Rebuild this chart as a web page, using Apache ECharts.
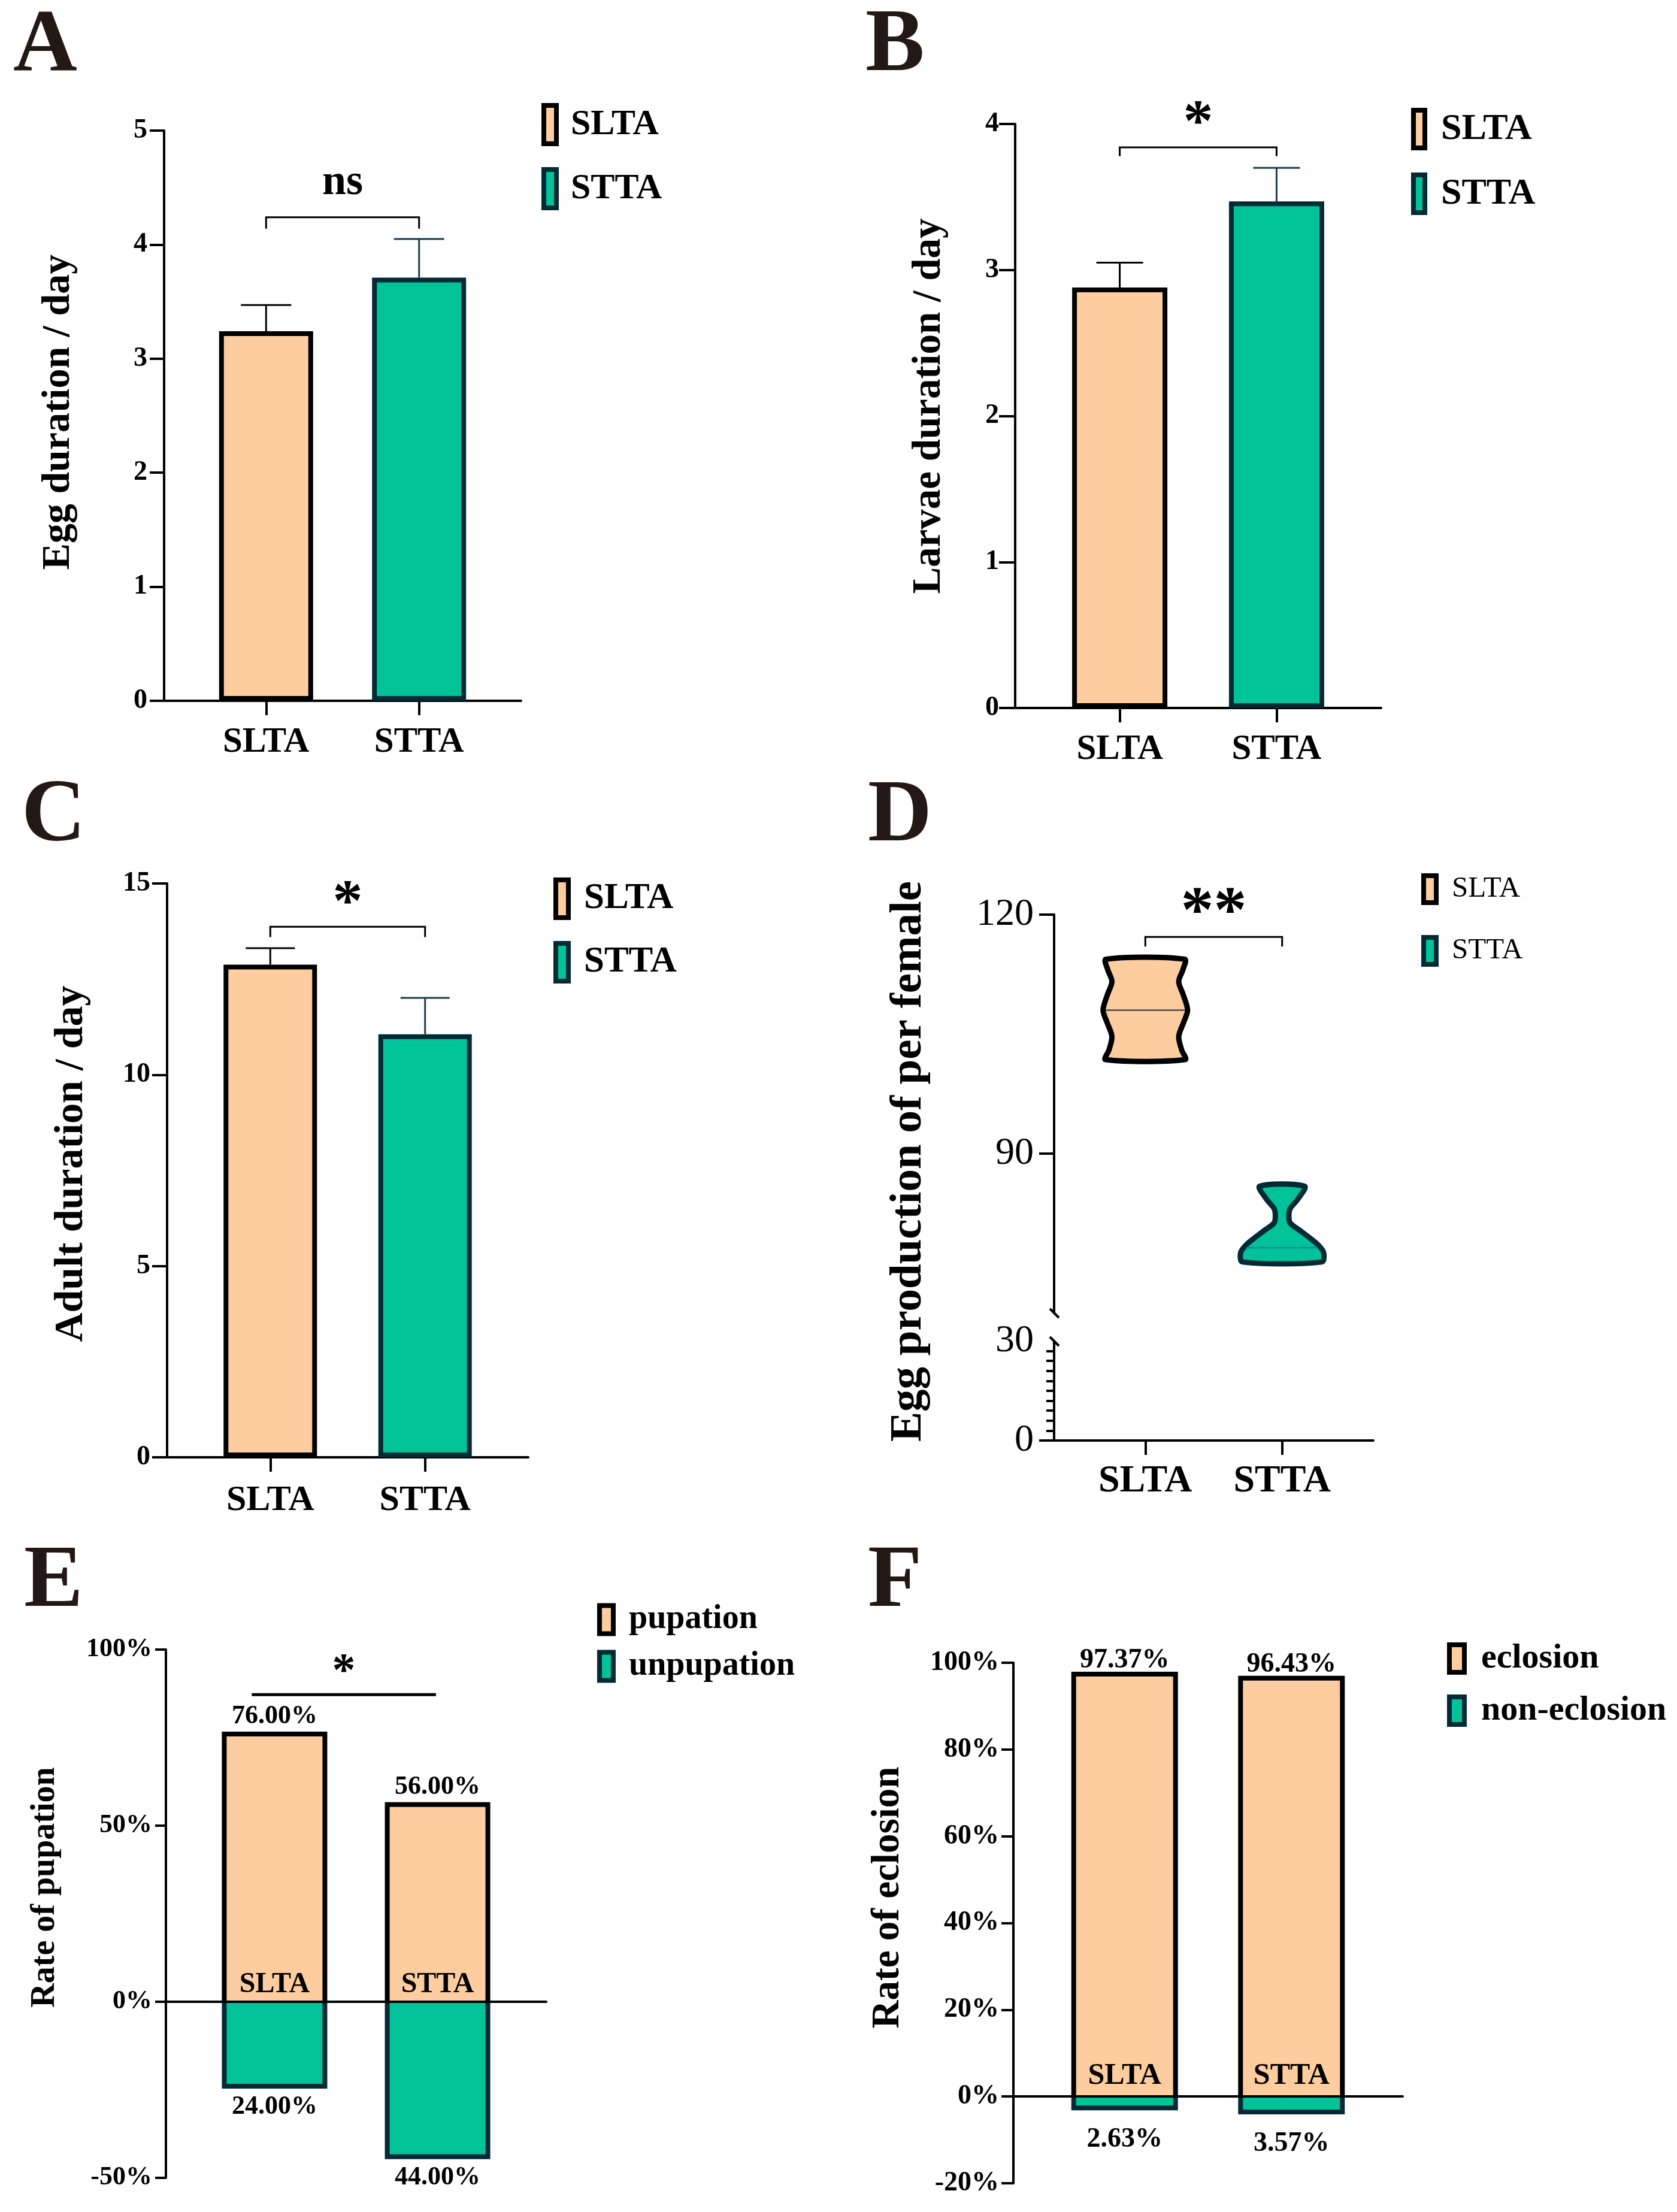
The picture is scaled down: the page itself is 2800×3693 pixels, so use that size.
<!DOCTYPE html>
<html>
<head>
<meta charset="utf-8">
<script src="https://cdn.jsdelivr.net/npm/echarts@6.0.0/dist/echarts.min.js"></script>
<style>
html, body { margin: 0; padding: 0; background: #fff; }
#chart { width: 2800px; height: 3693px; }
</style>
</head>
<body>
<div id="chart"></div>
<script>
"use strict"
// 数据
const groups = ['SLTA', 'STTA'];
const eggMean = [3.24, 3.71];
const eggUpper = [3.47, 4.05];
const larvaeMean = [2.88, 3.47];
const larvaeUpper = [3.05, 3.70];
const adultMean = [12.88, 11.06];
const adultUpper = [13.31, 12.01];
// 小提琴图轮廓: 高度 / 相对宽度
const slLevels = [114.4, 113.1, 111.6, 109.9, 108.0, 106.4, 104.7, 103.0, 101.8];
const slWidths = [0.93, 0.89, 0.79, 0.90, 1.0, 0.90, 0.79, 0.86, 0.94];
const stLevels = [85.9, 84.2, 83.1, 82.2, 81.3, 80.4, 79.6, 78.6, 77.6, 76.4];
const stWidths = [0.53, 0.36, 0.19, 0.16, 0.19, 0.41, 0.61, 0.84, 0.98, 0.94];
const eggMedian = [108.0, 78.2];
const pupation = [76, 56];
const unpupation = [-24, -44];
const eclosion = [97.37, 96.43];
const nonEclosion = [-2.63, -3.57];

const FONT = "'Liberation Serif', 'Times New Roman', serif";
const PEACH = '#FDCD9F';
const GREEN = '#00C39A';
const DARK = '#042A36';
const ERR2 = '#1A3E4A';
const X_MIN = 1 / 3, X_MAX = 8 / 3;
const VIOLIN_HALF = 0.309;

let chart = echarts.init(document.getElementById('chart'), null, {renderer: 'canvas'});

function grid(l, t, w, h) {
    return {left: l, top: t, width: w, height: h, containLabel: false, outerBoundsMode: 'none'};
}

function xAxis(gi, o) {
    return {
        gridIndex: gi, type: 'value', min: X_MIN, max: X_MAX, show: o.show !== false, z: o.z || 0,
        splitLine: {show: false},
        axisLine: {show: true, onZero: true, lineStyle: {color: '#000', width: 4}},
        axisTick: {show: o.tick !== false, customValues: [1, 2], length: 24, lineStyle: {color: '#000', width: 4}},
        axisLabel: {
            show: o.label !== false, customValues: [1, 2], margin: o.margin,
            formatter: function (v) { return groups[Math.round(v) - 1]; },
            fontFamily: FONT, fontSize: o.fontSize, fontWeight: 'bold', color: '#000'
        }
    };
}

function yAxis(gi, o) {
    let ax = {
        gridIndex: gi, type: 'value', min: o.min, max: o.max, interval: o.interval,
        splitLine: {show: false},
        axisLine: {show: true, onZero: false, lineStyle: {color: '#000', width: 4}},
        axisTick: {show: true, length: o.tick, lineStyle: {color: '#000', width: 4}},
        axisLabel: {
            margin: o.margin, fontFamily: FONT, fontSize: o.fontSize,
            fontWeight: o.weight || 'bold', color: '#000',
            formatter: o.formatter || function (v) { return String(v); }
        }
    };
    if (o.custom) {
        ax.axisTick.customValues = o.custom;
        ax.axisLabel.customValues = o.custom;
    }
    if (o.tickValues) ax.axisTick.customValues = o.tickValues;
    if (o.minor) ax.minorTick = {show: true, splitNumber: o.minor, length: 13, lineStyle: {color: '#000', width: 4}};
    return ax;
}

function barSeries(name, gi, data, w, color, border, bw) {
    return {
        name: name, type: 'bar', xAxisIndex: gi, yAxisIndex: gi, barWidth: w, barGap: '-100%', z: 2,
        data: data, itemStyle: {color: color, borderColor: border, borderWidth: bw === undefined ? 8 : bw},
        emphasis: {disabled: true}
    };
}

// 三边描边(零线一侧不描)
function outlineSeries(gi, values, w, color) {
    return {
        type: 'custom', xAxisIndex: gi, yAxisIndex: gi, z: 3,
        data: values.map(function (v, k) { return [k + 1, v]; }),
        renderItem: function (params, api) {
            let x = api.value(0);
            let a = api.coord([x, 0]);
            let b = api.coord([x, api.value(1)]);
            let h = w / 2;
            return {type: 'polyline', shape: {points: [[a[0] - h, a[1]], [a[0] - h, b[1]], [a[0] + h, b[1]], [a[0] + h, a[1]]]},
                style: {stroke: color, lineWidth: 8, fill: null, lineJoin: 'miter'}};
        }
    };
}

function catLabelSeries(gi, offset, fs) {
    return {
        type: 'custom', xAxisIndex: gi, yAxisIndex: gi, z: 4,
        data: groups.map(function (g, k) { return [k + 1, 0]; }),
        renderItem: function (params, api) {
            let p = api.coord([api.value(0), api.value(1)]);
            return {type: 'text', x: p[0], y: p[1] - offset, style: {
                text: groups[params.dataIndex], fontFamily: FONT, fontSize: fs, fontWeight: 'bold', fill: '#000',
                align: 'center', verticalAlign: 'middle', textAlign: 'center', textVerticalAlign: 'middle'}};
        }
    };
}

function errorSeries(gi, mean, upper, cap) {
    let colors = ['#000', ERR2];
    return {
        type: 'custom', xAxisIndex: gi, yAxisIndex: gi, z: 1,
        data: mean.map(function (m, k) { return [k + 1, m, upper[k]]; }),
        renderItem: function (params, api) {
            let x = api.value(0);
            let a = api.coord([x, api.value(1)]);
            let b = api.coord([x, api.value(2)]);
            let c = colors[params.dataIndex];
            return {
                type: 'group', children: [
                    {type: 'line', shape: {x1: a[0], y1: a[1], x2: b[0], y2: b[1]}, style: {stroke: c, lineWidth: 3}},
                    {type: 'line', shape: {x1: b[0] - cap, y1: b[1], x2: b[0] + cap, y2: b[1]}, style: {stroke: c, lineWidth: 3}}
                ]
            };
        }
    };
}

// 显著性标注
function sigSeries(gi, s) {
    return {
        type: 'custom', xAxisIndex: gi, yAxisIndex: gi, z: 3,
        data: [[s.x[0], s.x[1], s.y, s.drop, s.ty]],
        renderItem: function (params, api) {
            let x0 = api.value(0), x1 = api.value(1);
            let a = api.coord([x0, api.value(2)]);
            let b = api.coord([x1, api.value(2)]);
            let d = api.coord([x0, api.value(3)]);
            let t = api.coord([(x0 + x1) / 2, api.value(4)]);
            return {
                type: 'group', children: [
                    {type: 'polyline', shape: {points: [[a[0], d[1]], [a[0], a[1]], [b[0], b[1]], [b[0], d[1]]]},
                        style: {stroke: '#000', lineWidth: s.lw, fill: null}},
                    {type: 'text', x: t[0], y: t[1] + s.shift * s.fs, style: {
                        text: s.text, fontFamily: FONT, fontSize: s.fs, fontWeight: 'bold', fill: '#000',
                        align: 'center', verticalAlign: 'middle', textAlign: 'center', textVerticalAlign: 'middle'}}
                ]
            };
        }
    };
}

function violinSeries(name, gi, cx, levels, widths, median, fill, stroke, medColor) {
    return {
        name: name, type: 'custom', xAxisIndex: gi, yAxisIndex: gi, z: 2,
        itemStyle: {color: fill, borderColor: stroke},
        data: [[cx, median]],
        renderItem: function (params, api) {
            let c = api.value(0);
            let left = levels.map(function (lv, k) { return api.coord([c - widths[k] * VIOLIN_HALF, lv]); });
            let right = levels.map(function (lv, k) { return api.coord([c + widths[k] * VIOLIN_HALF, lv]); }).reverse();
            let med = api.value(1);
            let mw = widths[0];
            for (let k = 0; k < levels.length - 1; k++) {
                if (med <= levels[k] && med >= levels[k + 1]) {
                    let f = (levels[k] - med) / (levels[k] - levels[k + 1]);
                    mw = widths[k] + f * (widths[k + 1] - widths[k]);
                }
            }
            let m0 = api.coord([c - mw * VIOLIN_HALF, med]);
            let m1 = api.coord([c + mw * VIOLIN_HALF, med]);
            return {
                type: 'group', children: [
                    {type: 'polygon', shape: {points: left.concat(right), smooth: 0.3},
                        style: {fill: fill, stroke: stroke, lineWidth: 9, lineJoin: 'round'}},
                    {type: 'line', shape: {x1: m0[0] + 4, y1: m0[1], x2: m1[0] - 4, y2: m1[1]},
                        style: {stroke: medColor, lineWidth: 2.5}}
                ]
            };
        }
    };
}

function legend(o) {
    return {
        orient: 'vertical', left: o.left, top: o.top, padding: 0, selectedMode: false,
        icon: 'rect', itemWidth: o.w, itemHeight: o.h, itemGap: o.gap,
        textStyle: {fontFamily: FONT, fontSize: o.fs, fontWeight: o.weight || 'bold', color: '#000',
            padding: [0, 0, 0, o.pad], lineHeight: o.h},
        data: [
            {name: o.names[0], itemStyle: {color: PEACH, borderColor: '#000', borderWidth: 8}},
            {name: o.names[1], itemStyle: {color: GREEN, borderColor: DARK, borderWidth: 8}}
        ]
    };
}

function letter(t, x, y) {
    return {type: 'text', x: x, y: y, style: {text: t, fontFamily: FONT, fontSize: 148, fontWeight: 'bold',
        fill: '#231815', align: 'left', verticalAlign: 'middle', textAlign: 'left', textVerticalAlign: 'middle'}};
}

function title(t, x, y, fs) {
    return {type: 'text', x: x, y: y, rotation: Math.PI / 2, style: {text: t, fontFamily: FONT, fontSize: fs,
        fontWeight: 'bold', fill: '#000', align: 'center', verticalAlign: 'middle', textAlign: 'center', textVerticalAlign: 'middle'}};
}

function slash(x, y) {
    return {type: 'line', shape: {x1: x, y1: y, x2: x + 15, y2: y + 15}, style: {stroke: '#000', lineWidth: 4}};
}

let pct = function (v) { return v + '%'; };
let rows = function (arr) { return arr.map(function (v, k) { return [k + 1, v]; }); };

let option = {
    animation: false,
    backgroundColor: '#fff',
    grid: [
        grid(274, 218, 596, 952),   // A
        grid(1695, 207, 611, 975),  // B
        grid(279, 1475, 603, 958),  // C
        grid(1760, 1527, 533, 665), // D 上段
        grid(1760, 2239, 533, 166), // D 下段
        grid(277, 2754, 635, 882),  // E
        grid(1692, 2776, 650, 869)  // F
    ],
    xAxis: [
        xAxis(0, {margin: 40, fontSize: 59}),
        xAxis(1, {margin: 40, fontSize: 59}),
        xAxis(2, {margin: 42, fontSize: 60}),
        xAxis(3, {show: false}),
        xAxis(4, {margin: 36, fontSize: 64}),
        xAxis(5, {tick: false, label: false, z: 10}),
        xAxis(6, {tick: false, label: false, z: 10})
    ],
    yAxis: [
        yAxis(0, {min: 0, max: 5, interval: 1, tick: 24, margin: 28, fontSize: 46}),
        yAxis(1, {min: 0, max: 4, interval: 1, tick: 27, margin: 27, fontSize: 46}),
        yAxis(2, {min: 0, max: 15, interval: 5, tick: 25, margin: 28, fontSize: 46}),
        yAxis(3, {min: 70, max: 120, interval: 10, tick: 25, margin: 34, fontSize: 64, weight: 'normal', custom: [90, 120]}),
        yAxis(4, {min: 0, max: 30, interval: 30, tick: 25, margin: 34, fontSize: 64, weight: 'normal', minor: 10, tickValues: [0]}),
        yAxis(5, {min: -50, max: 100, interval: 50, tick: 18, margin: 23, fontSize: 44, formatter: pct}),
        yAxis(6, {min: -20, max: 100, interval: 20, tick: 20, margin: 24, fontSize: 46, formatter: pct})
    ],
    legend: [
        legend({left: 904, top: 172, w: 21, h: 64, gap: 35, fs: 60, pad: 19, names: groups}),
        legend({left: 2356, top: 180, w: 19, h: 63, gap: 37, fs: 62, pad: 22, names: groups}),
        legend({left: 924, top: 1465, w: 21, h: 63, gap: 35, fs: 61, pad: 21, names: groups}),
        legend({left: 2373, top: 1458, w: 21, h: 45, gap: 50, fs: 49, pad: 21, weight: 'normal', names: groups}),
        legend({left: 997, top: 2676, w: 23, h: 47, gap: 22, fs: 56, pad: 21, names: ['pupation', 'unpupation']}),
        legend({left: 2416, top: 2740, w: 25, h: 46, gap: 29, fs: 58, pad: 23, names: ['eclosion', 'non-eclosion']})
    ],
    graphic: [
        letter('A', 22, 79), letter('B', 1445, 79), letter('C', 36, 1365),
        letter('D', 1449, 1365), letter('E', 40, 2643), letter('F', 1449, 2643),
        title('Egg duration / day', 98, 688, 66),
        title('Larvae duration / day', 1552, 678, 67),
        title('Adult duration / day', 119, 1943, 68),
        title('Egg production of per female', 1518, 1939, 75),
        title('Rate of pupation', 76, 3151, 56),
        title('Rate of eclosion', 1483, 3168, 65),
        slash(1753, 2185), slash(1753, 2232)
    ],
    series: []
};

let s = option.series;
// A
s.push(barSeries('SLTA', 0, [[1, eggMean[0]]], 157, PEACH, '#000'));
s.push(barSeries('STTA', 0, [[2, eggMean[1]]], 157, GREEN, DARK));
s.push(errorSeries(0, eggMean, eggUpper, 42));
s.push(sigSeries(0, {x: [1, 2], y: 4.24, drop: 4.14, ty: 4.50, text: 'ns', fs: 72, shift: -0.11, lw: 3}));
// B
s.push(barSeries('SLTA', 1, [[1, larvaeMean[0]]], 159, PEACH, '#000'));
s.push(barSeries('STTA', 1, [[2, larvaeMean[1]]], 159, GREEN, DARK));
s.push(errorSeries(1, larvaeMean, larvaeUpper, 39));
s.push(sigSeries(1, {x: [1, 2], y: 3.84, drop: 3.78, ty: 4.05, text: '*', fs: 100, shift: 0.13, lw: 3}));
// C
s.push(barSeries('SLTA', 2, [[1, adultMean[0]]], 156, PEACH, '#000'));
s.push(barSeries('STTA', 2, [[2, adultMean[1]]], 156, GREEN, DARK));
s.push(errorSeries(2, adultMean, adultUpper, 41));
s.push(sigSeries(2, {x: [1, 2], y: 13.87, drop: 13.6, ty: 14.65, text: '*', fs: 100, shift: 0.13, lw: 3}));
// D
s.push(violinSeries('SLTA', 3, 1, slLevels, slWidths, eggMedian[0], PEACH, '#000', '#4a4a4a'));
s.push(violinSeries('STTA', 3, 2, stLevels, stWidths, eggMedian[1], GREEN, DARK, '#17879A'));
s.push(sigSeries(3, {x: [1, 2], y: 117.2, drop: 116.0, ty: 121.1, text: '**', fs: 110, shift: 0.13, lw: 3}));
// E
s.push(Object.assign(barSeries('pupation', 5, rows(pupation), 168, PEACH, '#000', 0), {
    label: {show: true, position: 'top', distance: 7, fontFamily: FONT, fontSize: 44, fontWeight: 'bold', color: '#000',
        formatter: function (p) { return p.value[1].toFixed(2) + '%'; }}
}));
s.push(Object.assign(barSeries('unpupation', 5, rows(unpupation), 168, GREEN, DARK, 0), {
    label: {show: true, position: 'bottom', distance: 13, fontFamily: FONT, fontSize: 44, fontWeight: 'bold', color: '#000',
        formatter: function (p) { return Math.abs(p.value[1]).toFixed(2) + '%'; }}
}));
s.push(outlineSeries(5, pupation, 168, '#000'));
s.push(outlineSeries(5, unpupation, 168, DARK));
s.push(catLabelSeries(5, 28, 48));
s.push(sigSeries(5, {x: [0.86, 1.99], y: 87.2, drop: 87.2, ty: 95.1, text: '*', fs: 78, shift: 0.13, lw: 5}));
// F
s.push(Object.assign(barSeries('eclosion', 6, rows(eclosion), 170, PEACH, '#000', 0), {
    label: {show: true, position: 'top', distance: 0, fontFamily: FONT, fontSize: 46, fontWeight: 'bold', color: '#000',
        formatter: function (p) { return p.value[1].toFixed(2) + '%'; }}
}));
s.push(Object.assign(barSeries('non-eclosion', 6, rows(nonEclosion), 170, GREEN, DARK, 0), {
    label: {show: true, position: 'bottom', distance: 30, fontFamily: FONT, fontSize: 46, fontWeight: 'bold', color: '#000',
        formatter: function (p) { return Math.abs(p.value[1]).toFixed(2) + '%'; }}
}));
s.push(outlineSeries(6, eclosion, 170, '#000'));
s.push(outlineSeries(6, nonEclosion, 170, DARK));
s.push(catLabelSeries(6, 34, 50));

chart.setOption(option);
</script>
</body>
</html>
